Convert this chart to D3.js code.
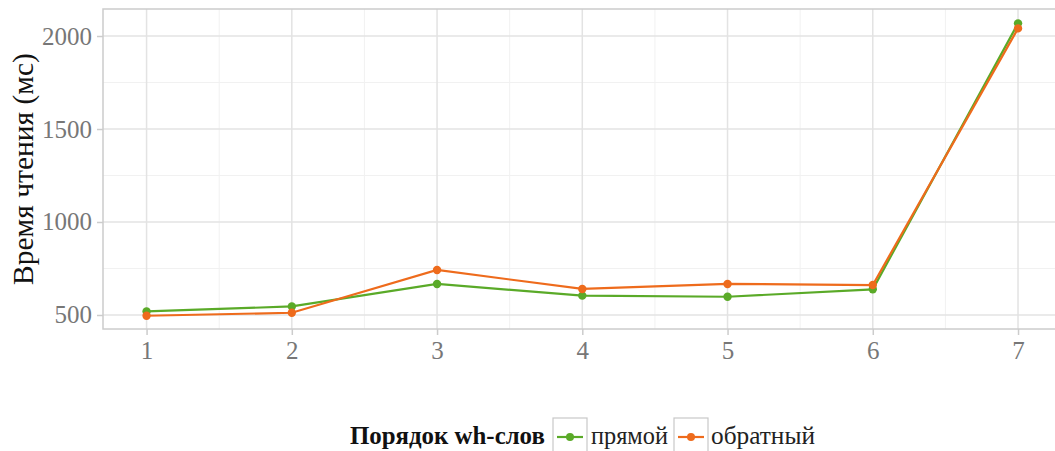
<!DOCTYPE html>
<html><head><meta charset="utf-8">
<script src="https://cdn.jsdelivr.net/npm/d3@7"></script>
<style>body{margin:0;background:#fff;} svg{display:block;}</style>
</head><body>
<svg id="c" width="1055" height="451"></svg>
<script>
const positions = [1, 2, 3, 4, 5, 6, 7];
const seriesNames = ["прямой", "обратный"];
const direct = [519, 546, 667, 604, 598, 638, 2068];
const inverse = [496, 512, 742, 640, 667, 661, 2041];
const yTicks = [500, 1000, 1500, 2000];
const yMinor = [750, 1250, 1750];
const xMinor = [1.5, 2.5, 3.5, 4.5, 5.5, 6.5];
const colors = ["#5AAA28", "#EE6B1C"];
const legendTitle = "Порядок wh-слов";
const yTitle = "Время чтения (мс)";

const svg = d3.select("#c");
const font = "'Liberation Serif', serif";
const L = 103, R = 1061.6, T = 9, B = 329;
const x = d3.scaleLinear().domain([0.7, 7.3]).range([L, R]);
const y = d3.scaleLinear().domain([424.7, 2145.2]).range([B, T]);

const g = svg.append("g");
// minor grid
g.selectAll(".ym").data(yMinor).join("line")
  .attr("x1", L).attr("x2", R).attr("y1", d => y(d)).attr("y2", d => y(d))
  .attr("stroke", "#f1f1f1").attr("stroke-width", 1);
g.selectAll(".xm").data(xMinor).join("line")
  .attr("y1", T).attr("y2", B).attr("x1", d => x(d)).attr("x2", d => x(d))
  .attr("stroke", "#f1f1f1").attr("stroke-width", 1);
// major grid
g.selectAll(".yM").data(yTicks).join("line")
  .attr("x1", L).attr("x2", R).attr("y1", d => y(d)).attr("y2", d => y(d))
  .attr("stroke", "#e3e3e3").attr("stroke-width", 1.5);
g.selectAll(".xM").data(positions).join("line")
  .attr("y1", T).attr("y2", B).attr("x1", d => x(d)).attr("x2", d => x(d))
  .attr("stroke", "#e3e3e3").attr("stroke-width", 1.5);
// panel border
g.append("rect").attr("x", L).attr("y", T).attr("width", R - L).attr("height", B - T)
  .attr("fill", "none").attr("stroke", "#cccccc").attr("stroke-width", 1.5);

// axes
const yAxis = svg.append("g").attr("transform", `translate(${L},0)`)
  .call(d3.axisLeft(y).tickValues(yTicks).tickFormat(d3.format("d")).tickSize(6).tickPadding(5));
const xAxis = svg.append("g").attr("transform", `translate(0,${B})`)
  .call(d3.axisBottom(x).tickValues(positions).tickFormat(d3.format("d")).tickSize(6).tickPadding(6));
[yAxis, xAxis].forEach(a => {
  a.select(".domain").remove();
  a.selectAll(".tick line").attr("stroke", "#cccccc").attr("stroke-width", 1.5);
  a.selectAll(".tick text").attr("fill", "#777777").style("font-family", font).style("font-size", "25px");
});

// lines
const line = d3.line().x((d, i) => x(positions[i])).y(d => y(d));
[direct, inverse].forEach((s, k) => {
  svg.append("path").datum(s).attr("d", line).attr("fill", "none")
    .attr("stroke", colors[k]).attr("stroke-width", 2.2);
  svg.selectAll(".p" + k).data(s).join("circle")
    .attr("cx", (d, i) => x(positions[i])).attr("cy", d => y(d)).attr("r", 4.2)
    .attr("fill", colors[k]);
});

function fitText(t, w) {
  const len = t.node().getComputedTextLength();
  const fs = parseFloat(t.style("font-size"));
  t.style("font-size", (fs * w / len) + "px");
}

// y title
const yt = svg.append("text").attr("transform", `translate(33,${(T + B) / 2}) rotate(-90)`)
  .attr("text-anchor", "middle").style("font-family", font).style("font-size", "26px")
  .attr("fill", "#111").text(yTitle);
fitText(yt, 232);

// legend
const lt = svg.append("text").attr("x", 350).attr("y", 444).style("font-family", font)
  .style("font-weight", "bold").style("font-size", "20px").attr("fill", "#111").text(legendTitle);
fitText(lt, 195);
const keyX = [553, 674], labX = [591, 711], labW = [77, 104];
seriesNames.forEach((n, k) => {
  svg.append("rect").attr("x", keyX[k]).attr("y", 418).attr("width", 34).attr("height", 36)
    .attr("fill", "#fff").attr("stroke", "#c8c8c8").attr("stroke-width", 1.2);
  svg.append("line").attr("x1", keyX[k] + 4).attr("x2", keyX[k] + 30)
    .attr("y1", 437).attr("y2", 437).attr("stroke", colors[k]).attr("stroke-width", 2.2);
  svg.append("circle").attr("cx", keyX[k] + 17).attr("cy", 437).attr("r", 4).attr("fill", colors[k]);
  const tx = svg.append("text").attr("x", labX[k]).attr("y", 444).style("font-family", font)
    .style("font-size", "22px").attr("fill", "#222").text(n);
  fitText(tx, labW[k]);
});
</script>
</body></html>
